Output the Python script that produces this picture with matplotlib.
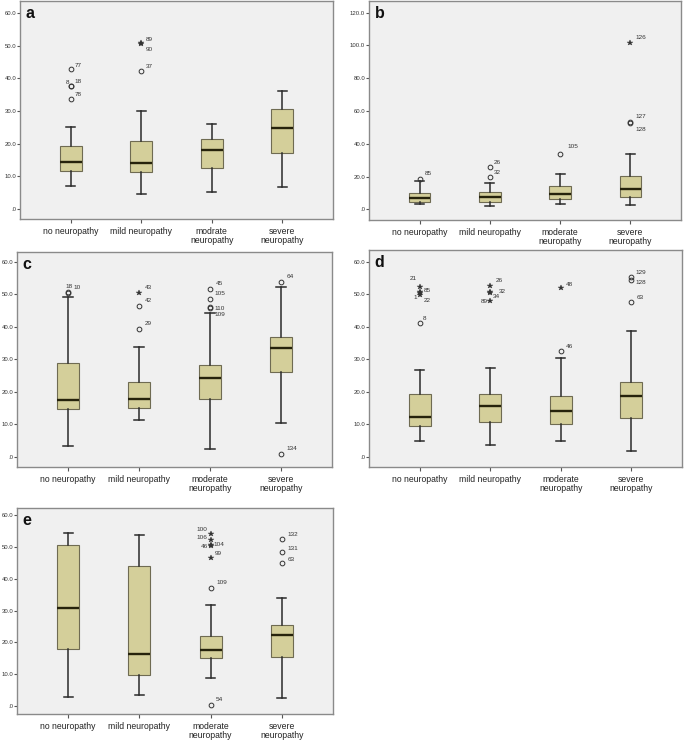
import matplotlib
matplotlib.use("Agg")
import matplotlib.pyplot as plt

plt.rcParams['font.family'] = ['Liberation Sans', 'DejaVu Sans']

# ---------------- data ----------------
categories = ["no neuropathy", "mild neuropathy", "moderate\nneuropathy", "severe\nneuropathy"]
categories_a = ["no neuropathy", "mild neuropathy", "modrate\nneuropathy", "severe\nneuropathy"]

# box stats per category: [whislo, q1, med, q3, whishi]
a_stats = [[7.0, 11.6, 14.4, 19.4, 25.0],
           [4.7, 11.3, 14.1, 20.7, 29.9],
           [5.2, 12.6, 18.2, 21.4, 25.9],
           [6.7, 17.1, 24.9, 30.6, 36.2]]
b_stats = [[3.3, 4.3, 6.9, 9.8, 17.0],
           [2.2, 4.5, 7.5, 10.4, 16.3],
           [3.3, 6.3, 9.4, 14.0, 21.8],
           [2.8, 7.7, 12.4, 20.1, 33.6]]
c_stats = [[3.5, 14.6, 17.5, 28.9, 49.2],
           [11.3, 15.1, 17.9, 23.1, 33.9],
           [2.4, 17.7, 24.2, 28.2, 44.1],
           [10.3, 26.1, 33.5, 36.9, 52.3]]
d_stats = [[4.8, 9.3, 12.3, 19.3, 26.7],
           [3.6, 10.7, 15.5, 19.2, 27.2],
           [4.9, 10.1, 14.1, 18.8, 30.3],
           [1.7, 11.8, 18.8, 23.1, 38.8]]
e_stats = [[2.8, 18.0, 30.8, 50.6, 54.2],
           [3.4, 9.8, 16.2, 43.9, 53.7],
           [8.9, 15.0, 17.6, 21.9, 31.6],
           [2.5, 15.5, 22.2, 25.5, 33.8]]

# outliers: (category index 1..4, value, case label, kind) kind 'o' = outlier, '*' = extreme
a_out = [(1, 42.8, "77", "o"), (1, 37.7, "18", "o"), (1, 37.5, "8", "o"), (1, 33.7, "78", "o"),
         (2, 50.7, "89", "*"), (2, 50.5, "90", "*"), (2, 42.3, "37", "o")]
b_out = [(1, 18.5, "85", "o"), (2, 26.0, "26", "o"), (2, 19.9, "32", "o"),
         (3, 34.0, "105", "o"),
         (4, 101.3, "126", "*"), (4, 53.3, "127", "o"), (4, 52.9, "128", "o")]
c_out = [(1, 50.6, "18", "o"), (1, 50.4, "10", "o"),
         (2, 50.5, "43", "*"), (2, 46.4, "42", "o"), (2, 39.3, "29", "o"),
         (3, 51.5, "45", "o"), (3, 48.5, "105", "o"), (3, 46.1, "110", "o"), (3, 45.9, "109", "o"),
         (4, 53.8, "64", "o"), (4, 0.8, "134", "o")]
d_out = [(1, 52.3, "21", "*"), (1, 50.8, "85", "*"), (1, 50.3, "1", "*"), (1, 49.8, "22", "*"),
         (1, 41.2, "8", "o"),
         (2, 52.5, "26", "*"), (2, 50.8, "32", "*"), (2, 50.5, "34", "*"), (2, 47.9, "89", "*"),
         (3, 51.8, "48", "*"), (3, 32.5, "46", "o"),
         (4, 55.4, "129", "o"), (4, 54.4, "128", "o"), (4, 47.7, "63", "o")]
e_out = [(3, 54.0, "100", "*"), (3, 52.0, "106", "*"), (3, 50.6, "104", "*"), (3, 50.2, "46", "*"),
         (3, 46.6, "99", "*"), (3, 37.0, "109", "o"), (3, 0.3, "54", "o"),
         (4, 52.6, "132", "o"), (4, 48.3, "131", "o"), (4, 44.8, "63", "o")]

a_ticks = [0, 10, 20, 30, 40, 50, 60]
b_ticks = [0, 20, 40, 60, 80, 100, 120]

# ---------------- style (label offsets in points: dx, dy, ha) ----------------
a_off = [(3, 3, 'left'), (3, 3, 'left'), (-1, 3, 'right'), (3, 3, 'left'),
         (3, 3, 'left'), (3, -4, 'left'), (3, 3, 'left')]
b_off = [(4, 4, 'left'), (3, 3, 'left'), (3, 3, 'left'), (5, 5, 'left'),
         (4, 4, 'left'), (4, 4, 'left'), (4, -5, 'left')]
c_off = [(3.6, 4, 'right'), (3.8, 4, 'left'), (4, 4, 'left'), (4, 4, 'left'), (4, 4, 'left'),
         (4, 4, 'left'), (3, 4, 'left'), (3, -1, 'left'), (3, -5, 'left'),
         (4, 4, 'left'), (4, 4, 'left')]
d_off = [(-2, 6, 'right'), (3, 1, 'left'), (-2, -3, 'right'), (3, -4, 'left'), (2, 3, 'left'),
         (4, 4, 'left'), (6, 0, 'left'), (2, -3, 'left'), (-2, 0, 'right'),
         (4, 3, 'left'), (4, 3, 'left'),
         (3, 3, 'left'), (3, -2, 'left'), (4, 3, 'left')]
e_off = [(-2, 3, 'right'), (-2, 2, 'right'), (2, 0, 'left'), (-2, 0, 'right'),
         (3, 3, 'left'), (4, 4, 'left'), (4, 4, 'left'),
         (4, 3, 'left'), (4, 3, 'left'), (4, 3, 'left')]

W, H = 684, 742
BOX_FACE = '#d4cf9a'
BOX_EDGE = '#6f6b52'
MED = '#26230c'
WHISK = '#2a2a2a'
BG = '#f0f0f0'
SPINE = '#8a8a8a'

fig = plt.figure(figsize=(W / 100, H / 100), dpi=100)
fig.patch.set_facecolor('white')


def px_axes(x0, y0, x1, y1):
    return fig.add_axes([x0 / W, 1 - y1 / H, (x1 - x0) / W, (y1 - y0) / H])


def fmt(v):
    return ".0" if v == 0 else f"{v:.1f}"


def panel(rect, letter, stats, outs, offs, cats, ticks, ylim):
    ax = px_axes(*rect)
    ax.set_facecolor(BG)
    bstats = []
    for s in stats:
        bstats.append(dict(whislo=s[0], q1=s[1], med=s[2], q3=s[3], whishi=s[4], fliers=[]))
    ax.bxp(bstats, positions=[1, 2, 3, 4], widths=0.31, patch_artist=True,
           showfliers=False, capwidths=0.13,
           boxprops=dict(facecolor=BOX_FACE, edgecolor=BOX_EDGE, linewidth=0.8),
           medianprops=dict(color=MED, linewidth=1.7),
           whiskerprops=dict(color=WHISK, linewidth=1.1),
           capprops=dict(color=WHISK, linewidth=1.1))
    for (cat, val, lab, kind), (dx, dy, ha) in zip(outs, offs):
        if kind == 'o':
            ax.plot([cat], [val], marker='o', ms=3.4, mfc='none', mec='#333333', mew=0.7, ls='none')
        else:
            ax.plot([cat], [val], marker='*', ms=4, mfc='#333333', mec='#333333', mew=0.3, ls='none')
        ax.annotate(lab, (cat, val), xytext=(dx, dy), textcoords='offset points',
                    ha=ha, va='center', fontsize=4.6, color='#333333')
    ax.set_xlim(0.28, 4.72)
    ax.set_ylim(*ylim)
    ax.set_xticks([1, 2, 3, 4])
    ax.set_xticklabels(cats, fontsize=6.2, color='#222222', linespacing=1.0)
    ax.set_yticks(ticks)
    ax.set_yticklabels([fmt(t) for t in ticks], fontsize=4.3, color='#333333')
    ax.tick_params(axis='y', direction='out', length=2.2, width=0.8, color='#555555', pad=0.6)
    ax.tick_params(axis='x', direction='out', length=3, width=0.8, color='#555555', pad=3)
    for sp in ax.spines.values():
        sp.set_color(SPINE)
        sp.set_linewidth(1.0)
    ax.text(0.018, 0.975, letter, transform=ax.transAxes, ha='left', va='top',
            fontsize=11.5, fontweight='bold', color='#111111')
    return ax


panel((20, 1, 333, 219), 'a', a_stats, a_out, a_off, categories_a, a_ticks, (-3.06, 63.67))
panel((369, 1, 681, 220), 'b', b_stats, b_out, b_off, categories, b_ticks, (-6.5, 127.1))
panel((17, 252, 332, 467), 'c', c_stats, c_out, c_off, categories, a_ticks, (-3.07, 62.98))
panel((369, 250, 682, 467), 'd', d_stats, d_out, d_off, categories, a_ticks, (-3.17, 63.6))
panel((17, 508, 333, 714), 'e', e_stats, e_out, e_off, categories, a_ticks, (-2.5, 62.2))

fig.savefig('out.png', dpi=100, facecolor='white')
